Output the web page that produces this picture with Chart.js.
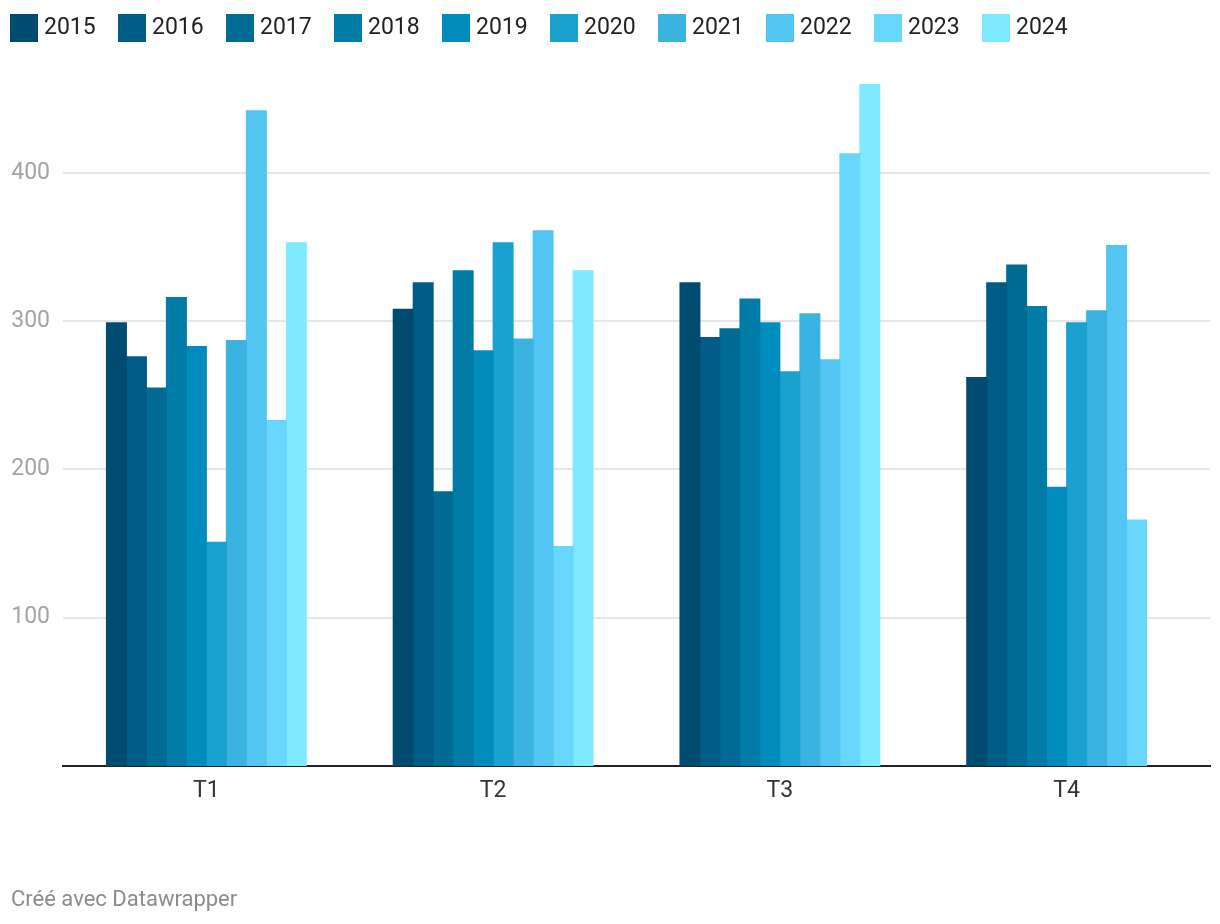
<!DOCTYPE html>
<html>
<head>
<meta charset="utf-8">
<script src="https://cdn.jsdelivr.net/npm/chart.js@4.4.1/dist/chart.umd.min.js"></script>
<style>
  body { margin: 0; background: #fff; }
  #wrap { position: relative; width: 1220px; height: 924px; font-family: Roboto, sans-serif; }
  #stats { position: absolute; left: 0; top: 0; }
  #legend { position: absolute; left: 0; top: 0; }
  .item { position: absolute; top: 14px; height: 28px; }
  .swatch { position: absolute; left: 0; top: 0; width: 28px; height: 28px; }
  .lbl { position: absolute; left: 34px; top: -1px; line-height: 28px; font-size: 23px; color: #222; white-space: nowrap; }
  #footer { position: absolute; left: 11px; top: 888px; font-size: 22px; line-height: 22px; color: #8c8c8c; }
</style>
</head>
<body>
<div id="wrap">
  <canvas id="stats" width="1220" height="924"></canvas>
  <div id="legend"></div>
  <div id="footer">Créé avec Datawrapper</div>
</div>
<script>
const quarters = ["T1", "T2", "T3", "T4"];
const years = ["2015", "2016", "2017", "2018", "2019", "2020", "2021", "2022", "2023", "2024"];

const v2015 = [299, 308, 326, 262];
const v2016 = [276, 326, 289, 326];
const v2017 = [255, 185, 295, 338];
const v2018 = [316, 334, 315, 310];
const v2019 = [283, 280, 299, 188];
const v2020 = [151, 353, 266, 299];
const v2021 = [287, 288, 305, 307];
const v2022 = [442, 361, 274, 351];
const v2023 = [233, 148, 413, 166];
const v2024 = [353, 334, 460, null];
const seriesValues = [v2015, v2016, v2017, v2018, v2019, v2020, v2021, v2022, v2023, v2024];

const yTicks = [100, 200, 300, 400];

const colors = ["#004c70", "#005c86", "#006c95", "#007ca6", "#008dbd",
                "#1aa1d0", "#3ab3e0", "#52c5f2", "#69d6fd", "#7ee9ff"];

// legend, html
const legend = document.getElementById("legend");
years.forEach((yr, i) => {
  const item = document.createElement("div");
  item.className = "item";
  item.style.left = (10 + 108 * i) + "px";
  item.innerHTML = '<div class="swatch" style="background:' + colors[i] + '"></div><div class="lbl">' + yr + "</div>";
  legend.appendChild(item);
});

const ctx = document.getElementById("stats").getContext("2d");

new Chart(ctx, {
  type: "bar",
  data: {
    labels: quarters,
    datasets: years.map((yr, i) => ({
      label: yr,
      data: seriesValues[i],
      backgroundColor: colors[i],
      borderWidth: 0,
      inflateAmount: 0.5,
      categoryPercentage: 0.697,
      barPercentage: 1.0,
    })),
  },
  options: {
    responsive: false,
    animation: false,
    layout: { padding: { top: 84, right: 10, left: 0, bottom: 0 } },
    plugins: {
      legend: { display: false },
      tooltip: { enabled: false },
    },
    scales: {
      x: {
        grid: { display: false },
        border: { display: true, color: "#222", width: 2 },
        ticks: {
          color: "#333",
          padding: 3,
          font: { family: "Roboto", size: 23 },
        },
        afterFit: (scale) => { scale.height = 158; },
      },
      y: {
        min: 0,
        max: 460,
        afterBuildTicks: (scale) => {
          scale.ticks = yTicks.map((v) => ({ value: v }));
        },
        grid: { color: "#e6e6e6", lineWidth: 2, drawTicks: false },
        border: { display: false },
        ticks: {
          color: "#a3a3a3",
          padding: 13,
          font: { family: "Roboto", size: 23 },
        },
        afterFit: (scale) => { scale.width = 63; },
      },
    },
  },
});
</script>
</body>
</html>
